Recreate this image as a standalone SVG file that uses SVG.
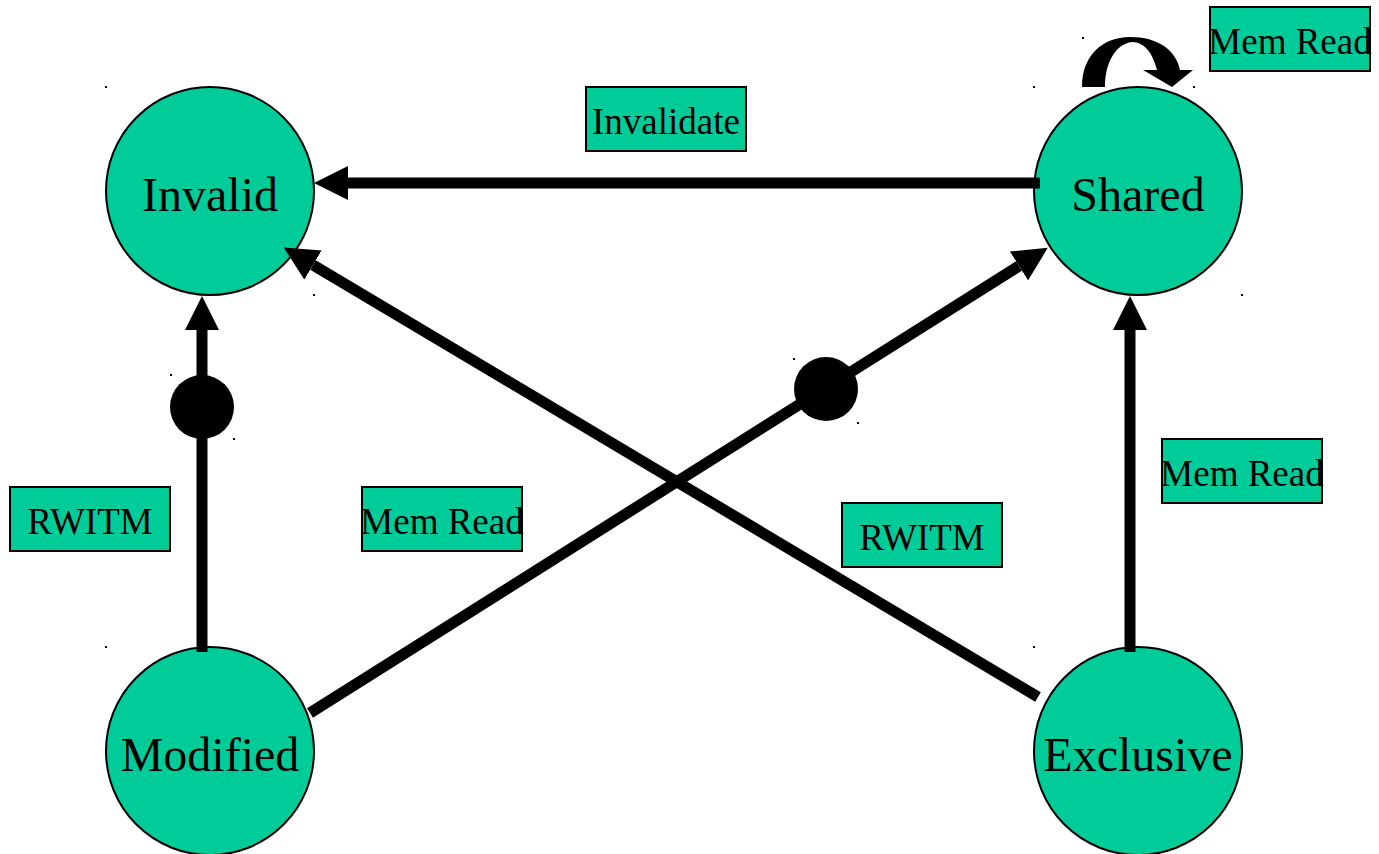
<svg xmlns="http://www.w3.org/2000/svg" width="1379" height="854" viewBox="0 0 1379 854">
<defs>
<style>
.state{fill:#00cc99;stroke:#000;stroke-width:2}
.st{font-family:"Liberation Serif","Times New Roman",serif;font-size:48px;fill:#000;text-anchor:middle}
.lb{fill:#00cc99;stroke:#000;stroke-width:2}
.lt{font-family:"Liberation Serif","Times New Roman",serif;font-size:37px;fill:#000;text-anchor:middle}
.edge{stroke:#000;stroke-width:11;fill:none}
.spk{fill:#000}
</style>
<marker id="ah" viewBox="0 0 34 34" refX="0" refY="17" markerWidth="34" markerHeight="34" markerUnits="userSpaceOnUse" orient="auto">
<path d="M0,0 L34,17 L0,34 Z" fill="#000"/>
</marker>
</defs>
<rect width="1379" height="854" fill="#fff"/>
<g id="invalid">
<circle class="state" cx="210" cy="191" r="104"/>
<text class="st" x="210" y="211">Invalid</text>
</g>
<g id="shared">
<circle class="state" cx="1138" cy="191" r="104"/>
<text class="st" x="1138" y="211">Shared</text>
</g>
<g id="modified">
<circle class="state" cx="210" cy="751" r="104"/>
<text class="st" x="210" y="771">Modified</text>
</g>
<g id="exclusive">
<circle class="state" cx="1138" cy="751" r="104"/>
<text class="st" x="1138" y="771">Exclusive</text>
</g>
<g id="connectors">
<line class="edge" x1="1040" y1="183" x2="348" y2="183" marker-end="url(#ah)"/>
<line class="edge" x1="202" y1="652" x2="202" y2="330" marker-end="url(#ah)"/>
<line class="edge" x1="1130" y1="652" x2="1130" y2="330" marker-end="url(#ah)"/>
<line class="edge" x1="1038" y1="697" x2="313" y2="265" marker-end="url(#ah)"/>
<line class="edge" x1="310" y1="713" x2="1019" y2="266" marker-end="url(#ah)"/>
<circle cx="202" cy="407" r="32" fill="#000"/>
<circle cx="826" cy="389" r="32" fill="#000"/>
<path d="M1082,87 C1082,56 1102,37 1130,37 C1158,37 1176,50 1180,70 L1193,70 L1172,87 L1143,70 L1157,70 C1153,54 1145,42 1132,42 C1116,44 1105,62 1105,87 Z" fill="#000"/>
</g>
<g id="label-invalidate">
<rect class="lb" x="586" y="87" width="160" height="64"/>
<text class="lt" x="666" y="134">Invalidate</text>
</g>
<g id="label-memread-top">
<rect class="lb" x="1210" y="7" width="160" height="64"/>
<text class="lt" x="1290" y="54">Mem Read</text>
</g>
<g id="label-rwitm-left">
<rect class="lb" x="10" y="487" width="160" height="64"/>
<text class="lt" x="90" y="534">RWITM</text>
</g>
<g id="label-memread-mid">
<rect class="lb" x="362" y="487" width="160" height="64"/>
<text class="lt" x="442" y="534">Mem Read</text>
</g>
<g id="label-rwitm-right">
<rect class="lb" x="842" y="503" width="160" height="64"/>
<text class="lt" x="922" y="550">RWITM</text>
</g>
<g id="label-memread-right">
<rect class="lb" x="1162" y="439" width="160" height="64"/>
<text class="lt" x="1242" y="486">Mem Read</text>
</g>
<g id="specks">
<rect class="spk" x="105" y="86" width="2" height="2"/>
<rect class="spk" x="313" y="294" width="2" height="2"/>
<rect class="spk" x="1033" y="86" width="2" height="2"/>
<rect class="spk" x="1241" y="294" width="2" height="2"/>
<rect class="spk" x="105" y="646" width="2" height="2"/>
<rect class="spk" x="1033" y="646" width="2" height="2"/>
<rect class="spk" x="170" y="374" width="2" height="2"/>
<rect class="spk" x="233" y="438" width="2" height="2"/>
<rect class="spk" x="793" y="358" width="2" height="2"/>
<rect class="spk" x="857" y="422" width="2" height="2"/>
<rect class="spk" x="1082" y="37" width="2" height="2"/>
<rect class="spk" x="1193" y="86" width="2" height="2"/>
</g>
</svg>
